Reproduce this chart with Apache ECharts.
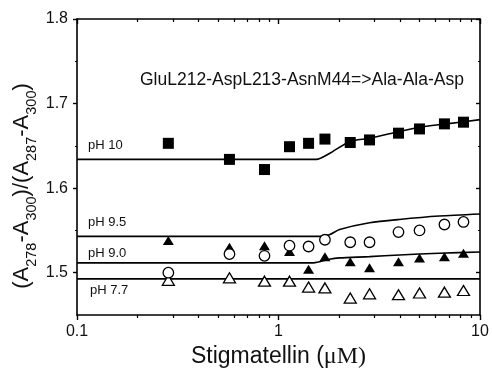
<!DOCTYPE html>
<html>
<head>
<meta charset="utf-8">
<script src="https://cdn.jsdelivr.net/npm/echarts@6/dist/echarts.min.js"></script>
<style>html,body{margin:0;padding:0;background:#fff;}#c{width:492px;height:374px;}</style>
</head>
<body>
<div id="c"></div>
<script>
// ---- data ----
var concX = [0.284, 0.571, 0.852, 1.134, 1.41, 1.70, 2.27, 2.83, 3.94, 5.01, 6.66, 8.28];
var pH10 = [1.653, 1.634, 1.622, 1.649, 1.653, 1.658, 1.654, 1.657, 1.665, 1.670, 1.676, 1.678];
var pH95 = [1.500, 1.522, 1.520, 1.532, 1.531, 1.539, 1.536, 1.536, 1.548, 1.550, 1.557, 1.560];
var pH90 = [1.538, 1.530, 1.532, 1.525, 1.504, 1.519, 1.513, 1.506, 1.513, 1.5175, 1.519, 1.523];
var pH77 = [1.491, 1.494, 1.490, 1.490, 1.483, 1.482, 1.470, 1.475, 1.474, 1.476, 1.477, 1.479];

var fit10X = [0.1, 1.54, 1.79, 2.25, 2.83, 3.98, 5.0, 6.82, 10];
var fit10Y = [1.634, 1.634, 1.641, 1.655, 1.659, 1.667, 1.672, 1.676, 1.681];
var fit95X = [0.1, 1.60, 1.79, 2.01, 2.83, 3.98, 6.28, 10];
var fit95Y = [1.543, 1.543, 1.545, 1.551, 1.559, 1.563, 1.567, 1.5694];
var fit90X = [0.1, 1.47, 1.60, 1.79, 2.01, 2.83, 3.98, 6.28, 10];
var fit90Y = [1.5116, 1.5116, 1.513, 1.516, 1.5175, 1.519, 1.521, 1.523, 1.5245];
var fit77X = [0.1, 10];
var fit77Y = [1.4927, 1.4927];

var xMajorTicks = [0.1, 1, 10];
var xMinorTicks = [0.2, 0.3, 0.4, 0.5, 0.6, 0.7, 0.8, 0.9, 2, 3, 4, 5, 6, 7, 8, 9];
var yMajorTicks = [1.5, 1.6, 1.7, 1.8];
var yMinorTicks = [1.55, 1.65, 1.75];

var pHLabels = ['pH 10', 'pH 9.5', 'pH 9.0', 'pH 7.7'];
var mutantLabel = 'GluL212-AspL213-AsnM44=>Ala-Ala-Asp';

// ---- chart ----
var FONT = '"Liberation Sans", Arial, sans-serif';
var SERIF = '"Liberation Serif", "Times New Roman", serif';
function pairs(xs, ys) { return xs.map(function (x, i) { return [x, ys[i]]; }); }
function fmt(v) { return String(+(+v).toPrecision(3)); }

var grid = { left: 77, right: 12, top: 19, bottom: 59 };
function xAx(opts) {
  var base = {
    type: 'log', logBase: 10, min: 0.1, max: 10, gridIndex: 0,
    axisLine: { show: false }, splitLine: { show: false },
    axisLabel: { show: false }, axisTick: { show: false }
  };
  return Object.assign(base, opts);
}
function yAx(opts) {
  var base = {
    type: 'value', min: 1.45, max: 1.8, gridIndex: 0,
    axisLine: { show: false }, splitLine: { show: false },
    axisLabel: { show: false }, axisTick: { show: false }
  };
  return Object.assign(base, opts);
}
var lineStyleAxis = { color: '#000', width: 1.6 };
var pHStyle = { fontSize: 13, fontFamily: FONT, fill: '#111', verticalAlign: 'middle' };

var option = {
  animation: false,
  backgroundColor: '#fff',
  grid: grid,
  xAxis: [
    xAx({
      position: 'bottom',
      axisLine: { show: true, onZero: false, lineStyle: lineStyleAxis },
      axisTick: { show: true, inside: false, length: 5, customValues: xMajorTicks, lineStyle: { color: '#000', width: 1.4 } },
      axisLabel: { show: true, customValues: xMajorTicks, formatter: fmt, margin: 9, fontSize: 16, color: '#111', fontFamily: FONT },
      name: '{a|Stigmatellin (}{m|μM)}',
      nameLocation: 'middle', nameGap: 30,
      nameTextStyle: {
        rich: {
          a: { fontSize: 23, fontFamily: FONT, color: '#111' },
          m: { fontSize: 24, fontFamily: SERIF, color: '#111' }
        }
      }
    }),
    xAx({
      position: 'bottom',
      axisTick: { show: true, inside: false, length: 3, customValues: xMinorTicks, lineStyle: { color: '#000', width: 1.2 } }
    }),
    xAx({
      position: 'top',
      axisLine: { show: true, onZero: false, lineStyle: lineStyleAxis },
      axisTick: { show: true, inside: true, length: 5, customValues: xMajorTicks, lineStyle: { color: '#000', width: 1.4 } }
    }),
    xAx({
      position: 'top',
      axisTick: { show: true, inside: true, length: 3, customValues: xMinorTicks, lineStyle: { color: '#000', width: 1.2 } }
    })
  ],
  yAxis: [
    yAx({
      position: 'left',
      axisLine: { show: true, onZero: false, lineStyle: lineStyleAxis },
      axisTick: { show: true, inside: false, length: 4, customValues: yMajorTicks, lineStyle: { color: '#000', width: 1.4 } },
      axisLabel: { show: true, customValues: yMajorTicks, formatter: function (v) { return (+v).toFixed(1); }, margin: 9, fontSize: 16, color: '#111', fontFamily: FONT }
    }),
    yAx({
      position: 'left',
      axisTick: { show: true, inside: false, length: 2, customValues: yMinorTicks, lineStyle: { color: '#000', width: 1.2 } }
    }),
    yAx({
      position: 'right',
      axisLine: { show: true, onZero: false, lineStyle: lineStyleAxis },
      axisTick: { show: true, inside: true, length: 4, customValues: yMajorTicks, lineStyle: { color: '#000', width: 1.4 } }
    }),
    yAx({
      position: 'right',
      axisTick: { show: true, inside: true, length: 2, customValues: yMinorTicks, lineStyle: { color: '#000', width: 1.2 } }
    })
  ],
  graphic: [
    {
      type: 'text', x: 23, y: 186, rotation: Math.PI / 2,
      style: {
        text: '{a|(A}{s|278}{a|-A}{s|300}{a|)/(A}{s|287}{a|-A}{s|300}{a|)}',
        align: 'center', verticalAlign: 'middle',
        rich: {
          a: { fontSize: 22, fontFamily: FONT, fill: '#111', lineHeight: 24, verticalAlign: 'top' },
          s: { fontSize: 14.5, fontFamily: FONT, fill: '#111', lineHeight: 14, verticalAlign: 'top', padding: [13, 0, 0, 0] }
        }
      }
    },
    { type: 'text', x: 140, y: 80, style: { text: mutantLabel, fontSize: 17.5, fontFamily: FONT, fill: '#111', verticalAlign: 'middle' } },
    { type: 'text', x: 88, y: 145, style: Object.assign({ text: pHLabels[0] }, pHStyle) },
    { type: 'text', x: 88, y: 222, style: Object.assign({ text: pHLabels[1] }, pHStyle) },
    { type: 'text', x: 88, y: 253, style: Object.assign({ text: pHLabels[2] }, pHStyle) },
    { type: 'text', x: 90, y: 290, style: Object.assign({ text: pHLabels[3] }, pHStyle) }
  ],
  series: [
    { type: 'line', data: pairs(fit10X, fit10Y), smooth: 0.25, showSymbol: false, lineStyle: { color: '#000', width: 1.6 }, z: 2 },
    { type: 'line', data: pairs(fit95X, fit95Y), smooth: 0.25, showSymbol: false, lineStyle: { color: '#000', width: 1.6 }, z: 2 },
    { type: 'line', data: pairs(fit90X, fit90Y), smooth: 0.25, showSymbol: false, lineStyle: { color: '#000', width: 1.6 }, z: 2 },
    { type: 'line', data: pairs(fit77X, fit77Y), showSymbol: false, lineStyle: { color: '#000', width: 1.6 }, z: 2 },
    { type: 'scatter', data: pairs(concX, pH10), symbol: 'rect', symbolSize: 11, itemStyle: { color: '#000', opacity: 1 }, z: 3 },
    { type: 'scatter', data: pairs(concX, pH77), symbol: 'triangle', symbolSize: [12, 10], itemStyle: { color: '#fff', borderColor: '#000', borderWidth: 1.3, opacity: 1 }, z: 3 },
    { type: 'scatter', data: pairs(concX, pH90), symbol: 'triangle', symbolSize: [11, 9], itemStyle: { color: '#000', opacity: 1 }, z: 4 },
    { type: 'scatter', data: pairs(concX, pH95), symbol: 'circle', symbolSize: 10.5, itemStyle: { color: '#fff', borderColor: '#000', borderWidth: 1.3, opacity: 1 }, z: 5 }
  ]
};
var chart = echarts.init(document.getElementById('c'), null, { renderer: 'canvas' });
chart.setOption(option);
</script>
</body>
</html>
